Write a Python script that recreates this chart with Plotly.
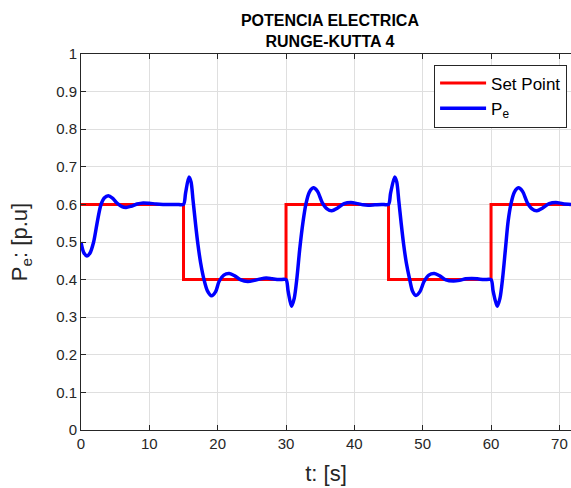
import plotly.graph_objects as go

# Set point (step changes)
t_sp = [0, 15, 30, 45, 60, 71.7]
p_sp = [0.6, 0.4, 0.6, 0.4, 0.6, 0.6]

# Electrical power response
t_pe = [0.0, 0.4, 0.87, 1.3, 1.85, 2.4, 2.9, 3.4, 4.0, 4.6, 5.3, 6.0, 6.6, 7.3, 8.2, 9.1, 10.0, 11.0, 12.0, 13.0, 14.0, 15.0,
        15.3, 15.8, 16.1, 16.4, 16.75, 17.1, 17.5, 18.0, 18.5, 19.1, 19.7, 20.2, 20.9, 21.7, 22.5, 23.4, 24.4, 25.4, 26.3, 27.1, 28.0, 29.0, 30.0,
        30.3, 30.8, 31.2, 31.6, 32.0, 32.5, 32.9, 33.4, 34.0, 34.6, 35.3, 36.0, 36.7, 37.5, 38.5, 39.5, 40.5, 41.3, 42.0, 43.0, 44.0, 45.0,
        45.3, 45.9, 46.2, 46.5, 46.85, 47.2, 47.6, 48.1, 48.5, 49.0, 49.6, 50.2, 50.9, 51.7, 52.5, 53.4, 54.5, 55.4, 56.3, 57.2, 58.0, 59.0, 60.0,
        60.3, 60.9, 61.3, 61.7, 62.1, 62.5, 62.9, 63.4, 64.0, 64.6, 65.3, 66.0, 66.7, 67.5, 68.5, 69.5, 70.5, 71.7]
p_pe = [0.500, 0.472, 0.463, 0.470, 0.500, 0.555, 0.598, 0.617, 0.623, 0.617, 0.603, 0.594, 0.592, 0.595, 0.601, 0.604, 0.603, 0.601, 0.600, 0.600, 0.600, 0.600,
        0.630, 0.673, 0.660, 0.610, 0.550, 0.495, 0.445, 0.400, 0.370, 0.357, 0.368, 0.395, 0.412, 0.416, 0.410, 0.399, 0.395, 0.398, 0.402, 0.404, 0.402, 0.400, 0.400,
        0.370, 0.329, 0.350, 0.405, 0.480, 0.555, 0.600, 0.632, 0.644, 0.635, 0.605, 0.588, 0.583, 0.590, 0.602, 0.605, 0.602, 0.599, 0.598, 0.599, 0.600, 0.600,
        0.630, 0.673, 0.660, 0.610, 0.550, 0.495, 0.445, 0.400, 0.370, 0.358, 0.368, 0.395, 0.412, 0.416, 0.410, 0.399, 0.396, 0.398, 0.402, 0.403, 0.402, 0.400, 0.400,
        0.370, 0.329, 0.350, 0.405, 0.480, 0.555, 0.600, 0.632, 0.644, 0.635, 0.605, 0.588, 0.583, 0.590, 0.602, 0.605, 0.602, 0.600]

x_ticks = [0, 10, 20, 30, 40, 50, 60, 70]
y_ticks = [0, 0.1, 0.2, 0.3, 0.4, 0.5, 0.6, 0.7, 0.8, 0.9, 1]
y_tick_labels = ["0", "0.1", "0.2", "0.3", "0.4", "0.5", "0.6", "0.7", "0.8", "0.9", "1"]

FONT = "Liberation Sans, Arial, Helvetica, sans-serif"
AX = "#262626"
GRID = "#dfdfdf"

fig = go.Figure()
fig.add_trace(go.Scatter(x=t_sp, y=p_sp, mode="lines", name="Set Point",
                         line=dict(color="#ff0000", width=3, shape="hv")))
fig.add_trace(go.Scatter(x=t_pe, y=p_pe, mode="lines", name="P<sub>e</sub>",
                         line=dict(color="#0000ff", width=3.5, shape="spline", smoothing=0.8)))

fig.update_layout(
    width=571, height=488,
    margin=dict(l=81, r=0, t=54, b=58),
    paper_bgcolor="white", plot_bgcolor="white",
    font=dict(family=FONT, color=AX),
    title=dict(text="<b>POTENCIA ELECTRICA<br>RUNGE-KUTTA 4</b>",
               font=dict(family=FONT, size=16, color="#000000"),
               x=0.508, xref="paper", xanchor="center",
               y=0.946, yref="container", yanchor="top"),
    xaxis=dict(range=[0, 71.7], tickvals=x_ticks, ticktext=[str(v) for v in x_ticks],
               showgrid=True, gridcolor=GRID, gridwidth=1, zeroline=False,
               showline=True, linecolor=AX, linewidth=1, mirror="ticks",
               ticks="inside", ticklen=5, tickcolor=AX, automargin=False,
               tickfont=dict(size=15, color=AX),
               title=dict(text="t: [s]", font=dict(size=22, color=AX), standoff=14)),
    yaxis=dict(range=[0, 1], tickvals=y_ticks, ticktext=y_tick_labels,
               showgrid=True, gridcolor=GRID, gridwidth=1, zeroline=False,
               showline=True, linecolor=AX, linewidth=1,
               ticks="inside", ticklen=5, tickcolor=AX, automargin=False,
               tickfont=dict(size=15, color=AX),
               title=dict(text="P<sub>e</sub>: [p.u]", font=dict(size=22, color=AX), standoff=22)),
    legend=dict(x=0.992, y=0.972, xanchor="right", yanchor="top",
                bgcolor="white", bordercolor=AX, borderwidth=1,
                font=dict(size=17, color="#000000"), itemwidth=46,
                tracegroupgap=0),
    showlegend=True,
)

fig.write_html("out.html", config={"displayModeBar": False},
               post_script="document.body.style.margin='0px';")
